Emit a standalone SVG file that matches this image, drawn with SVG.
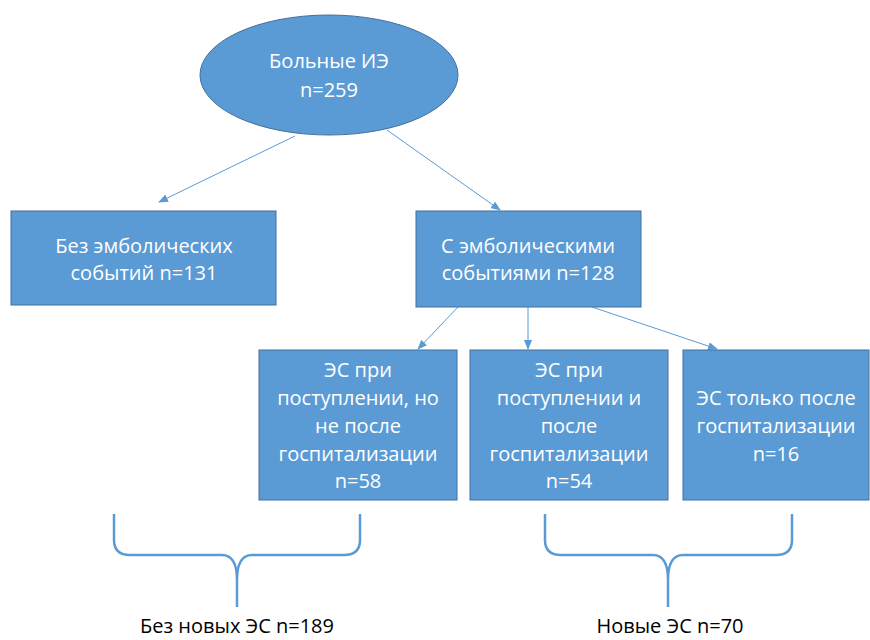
<svg xmlns="http://www.w3.org/2000/svg" width="870" height="640" viewBox="0 0 870 640">
<defs>
<marker id="ah" markerWidth="10" markerHeight="8" refX="9" refY="4" orient="auto" markerUnits="userSpaceOnUse">
<path d="M0,0 L10,4 L0,8 z" fill="#5B9BD5"/>
</marker>
</defs>
<style>
.node{fill:#5B9BD5;stroke:#41719C;stroke-width:1}
.t{font-family:"Open Sans","Liberation Sans",sans-serif;font-size:20px;fill:#ffffff;text-anchor:middle}
.lab{font-family:"Open Sans","Liberation Sans",sans-serif;font-size:20px;fill:#000000;text-anchor:middle}
.conn{stroke:#5B9BD5;stroke-width:1;fill:none;marker-end:url(#ah)}
.brace{stroke:#5B9BD5;stroke-width:2.5;fill:none}
</style>
<rect width="870" height="640" fill="#ffffff"/>
<g id="connectors">
<line class="conn" x1="295" y1="136" x2="159" y2="202"/>
<line class="conn" x1="387" y1="130" x2="500" y2="210"/>
<line class="conn" x1="458" y1="307" x2="418" y2="349"/>
<line class="conn" x1="528" y1="307" x2="528" y2="349"/>
<line class="conn" x1="592" y1="307" x2="717" y2="349"/>
</g>
<g id="n-root">
<ellipse class="node" cx="329" cy="75" rx="129" ry="60"/>
<text class="t" x="329" y="68">Больные ИЭ</text>
<text class="t" x="329" y="97">n=259</text>
</g>
<g id="n-no-emb">
<rect class="node" x="11" y="211" width="265" height="94"/>
<text class="t" x="144" y="253">Без эмболических</text>
<text class="t" x="144" y="280">событий n=131</text>
</g>
<g id="n-emb">
<rect class="node" x="416" y="211" width="225" height="96"/>
<text class="t" x="528" y="253">С эмболическими</text>
<text class="t" x="528" y="280">событиями n=128</text>
</g>
<g id="n-adm-only">
<rect class="node" x="259" y="350" width="198" height="150"/>
<text class="t" x="358" y="377">ЭС при</text>
<text class="t" x="358" y="405">поступлении, но</text>
<text class="t" x="358" y="433">не после</text>
<text class="t" x="358" y="461">госпитализации</text>
<text class="t" x="358" y="488">n=58</text>
</g>
<g id="n-adm-and-after">
<rect class="node" x="470" y="350" width="198" height="150"/>
<text class="t" x="569" y="377">ЭС при</text>
<text class="t" x="569" y="405">поступлении и</text>
<text class="t" x="569" y="433">после</text>
<text class="t" x="569" y="461">госпитализации</text>
<text class="t" x="569" y="488">n=54</text>
</g>
<g id="n-after-only">
<rect class="node" x="683" y="350" width="186" height="150"/>
<text class="t" x="776" y="405">ЭС только после</text>
<text class="t" x="776" y="433">госпитализации</text>
<text class="t" x="776" y="461">n=16</text>
</g>
<g id="brace-left">
<path class="brace" d="M114,514 L114,540 Q114,555 130,555 L222,555 Q237,555 237,580 L237,607 M360,514 L360,540 Q360,555 344,555 L252,555 Q237,555 237,580"/>
<text class="lab" x="237" y="633">Без новых ЭС n=189</text>
</g>
<g id="brace-right">
<path class="brace" d="M545,514 L545,540 Q545,555 561,555 L653,555 Q668,555 668,580 L668,607 M792,514 L792,540 Q792,555 776,555 L683,555 Q668,555 668,580"/>
<text class="lab" x="670" y="633">Новые ЭС n=70</text>
</g>
</svg>
